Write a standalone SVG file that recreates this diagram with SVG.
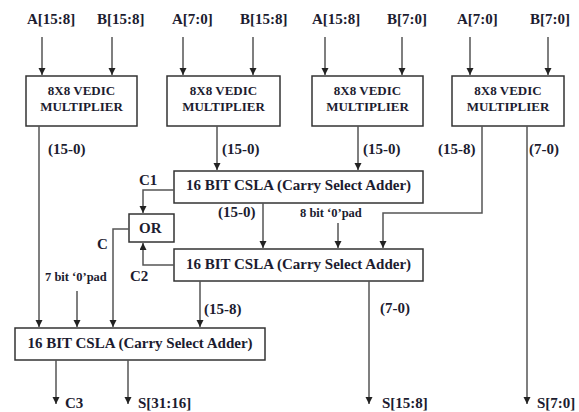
<svg xmlns="http://www.w3.org/2000/svg" width="579" height="412" viewBox="0 0 579 412">
<style>
.box{fill:#fff;stroke:#333;stroke-width:1.5}
.ln{fill:none;stroke:#555;stroke-width:1.5}
text{font-family:"Liberation Serif","Times New Roman",serif;font-weight:bold;fill:#1c1c30;font-size:15px}
.sm{font-size:12.5px}
.v{font-size:13px}
.m{text-anchor:middle}
</style>
<defs>
<marker id="ah" markerWidth="8" markerHeight="8" refX="7" refY="3.5" orient="auto" markerUnits="userSpaceOnUse">
<path d="M0,0 L7,3.5 L0,7 z" fill="#222"/>
</marker>
</defs>
<g id="inputs">
<text x="27" y="23.5">A[15:8]</text>
<text x="97" y="23.5">B[15:8]</text>
<text x="172" y="23.5">A[7:0]</text>
<text x="240" y="23.5">B[15:8]</text>
<text x="312" y="23.5">A[15:8]</text>
<text x="387" y="23.5">B[7:0]</text>
<text x="457" y="23.5">A[7:0]</text>
<text x="530" y="23.5">B[7:0]</text>
</g>
<g id="mul1"><rect class="box" x="26" y="76" width="111" height="50"/><text class="v m" x="81.5" y="95">8X8 VEDIC</text><text class="v m" x="81.5" y="111">MULTIPLIER</text></g>
<g id="mul2"><rect class="box" x="167" y="76" width="113" height="50"/><text class="v m" x="223.5" y="95">8X8 VEDIC</text><text class="v m" x="223.5" y="111">MULTIPLIER</text></g>
<g id="mul3"><rect class="box" x="312" y="76" width="111" height="50"/><text class="v m" x="367.5" y="95">8X8 VEDIC</text><text class="v m" x="367.5" y="111">MULTIPLIER</text></g>
<g id="mul4"><rect class="box" x="452" y="76" width="112" height="50"/><text class="v m" x="508" y="95">8X8 VEDIC</text><text class="v m" x="508" y="111">MULTIPLIER</text></g>
<g id="csla1"><rect class="box" x="174" y="171" width="249" height="32"/><text class="m" x="298.5" y="189.5">16 BIT CSLA (Carry Select Adder)</text></g>
<g id="or"><rect class="box" x="129" y="214" width="45" height="28"/><text x="139" y="232.5">OR</text></g>
<g id="csla2"><rect class="box" x="174" y="249" width="249" height="32"/><text class="m" x="298.5" y="268.5">16 BIT CSLA (Carry Select Adder)</text></g>
<g id="csla3"><rect class="box" x="15" y="328" width="250" height="32"/><text class="m" x="140" y="347.5">16 BIT CSLA (Carry Select Adder)</text></g>
<g id="connectors">
<line class="ln" x1="42" y1="37" x2="42" y2="75" marker-end="url(#ah)"/>
<line class="ln" x1="112" y1="37" x2="112" y2="75" marker-end="url(#ah)"/>
<line class="ln" x1="183" y1="37" x2="183" y2="75" marker-end="url(#ah)"/>
<line class="ln" x1="253" y1="37" x2="253" y2="75" marker-end="url(#ah)"/>
<line class="ln" x1="325" y1="37" x2="325" y2="75" marker-end="url(#ah)"/>
<line class="ln" x1="402" y1="37" x2="402" y2="75" marker-end="url(#ah)"/>
<line class="ln" x1="470" y1="37" x2="470" y2="75" marker-end="url(#ah)"/>
<line class="ln" x1="548" y1="37" x2="548" y2="75" marker-end="url(#ah)"/>
<line class="ln" x1="39" y1="126" x2="39" y2="327" marker-end="url(#ah)"/>
<line class="ln" x1="217" y1="126" x2="217" y2="170" marker-end="url(#ah)"/>
<line class="ln" x1="358" y1="126" x2="358" y2="170" marker-end="url(#ah)"/>
<polyline class="ln" points="482,126 482,213 383,213 383,248" marker-end="url(#ah)"/>
<line class="ln" x1="527" y1="126" x2="527" y2="404" marker-end="url(#ah)"/>
<polyline class="ln" points="174,190 143,190 143,213" marker-end="url(#ah)"/>
<polyline class="ln" points="174,265 143,265 143,243" marker-end="url(#ah)"/>
<polyline class="ln" points="129,229 113,229 113,327" marker-end="url(#ah)"/>
<line class="ln" x1="263" y1="203" x2="263" y2="248" marker-end="url(#ah)"/>
<line class="ln" x1="338" y1="223" x2="338" y2="248" marker-end="url(#ah)"/>
<line class="ln" x1="77" y1="291" x2="77" y2="327" marker-end="url(#ah)"/>
<line class="ln" x1="200" y1="281" x2="200" y2="327" marker-end="url(#ah)"/>
<line class="ln" x1="369" y1="281" x2="369" y2="404" marker-end="url(#ah)"/>
<line class="ln" x1="56" y1="360" x2="56" y2="404" marker-end="url(#ah)"/>
<line class="ln" x1="128" y1="360" x2="128" y2="404" marker-end="url(#ah)"/>
</g>
<g id="labels">
<text x="48" y="153.5">(15-0)</text>
<text x="222" y="153.5">(15-0)</text>
<text x="363" y="153.5">(15-0)</text>
<text x="438" y="153.5">(15-8)</text>
<text x="529" y="153.5">(7-0)</text>
<text x="139" y="185">C1</text>
<text x="218" y="216.5">(15-0)</text>
<text class="sm" x="300" y="217">8 bit ‘0’pad</text>
<text x="97" y="249">C</text>
<text x="130" y="281">C2</text>
<text class="sm" x="45" y="281">7 bit ‘0’pad</text>
<text x="204" y="314">(15-8)</text>
<text x="380" y="313">(7-0)</text>
<text x="65" y="408">C3</text>
<text x="138" y="408">S[31:16]</text>
<text x="382" y="408">S[15:8]</text>
<text x="537" y="408">S[7:0]</text>
</g>
</svg>
